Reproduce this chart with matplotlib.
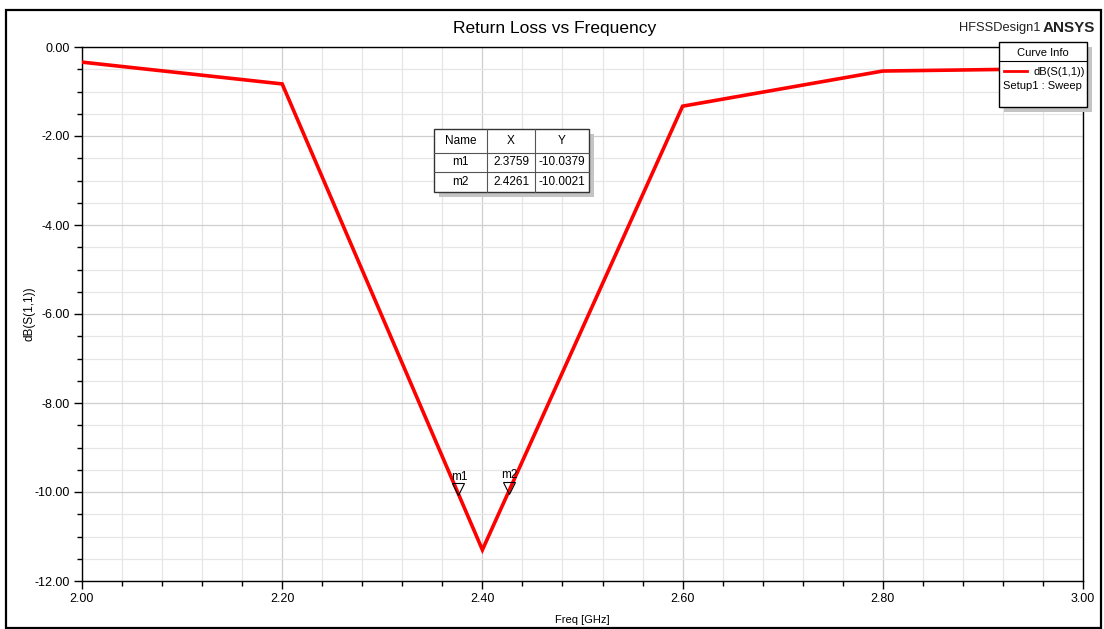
import matplotlib
matplotlib.use("Agg")
import matplotlib.pyplot as plt
from matplotlib.patches import Rectangle
from matplotlib.lines import Line2D
from matplotlib.ticker import MultipleLocator, FormatStrFormatter
from matplotlib.transforms import offset_copy

plt.rcParams['font.family'] = ['Liberation Sans', 'DejaVu Sans']

# S11 sweep
freq_ghz = [2.0, 2.2, 2.4, 2.6, 2.8, 3.0]
s11_db = [-0.34, -0.83, -11.30, -1.33, -0.54, -0.48]

# markers
marker_names = ["m1", "m2"]
marker_x = [2.3759, 2.4261]
marker_y = [-10.0379, -10.0021]

W, H = 1104, 629
fig = plt.figure(figsize=(W / 100, H / 100), dpi=100)
fig.patch.set_facecolor("white")


def fx(x):
    return x / W


def fy(y):
    return 1 - y / H


def frect(x0, y0, x1, y1, **kw):
    r = Rectangle((fx(x0), fy(y1)), fx(x1) - fx(x0), fy(y0) - fy(y1),
                  transform=fig.transFigure, **kw)
    fig.add_artist(r)
    return r


def fline(x0, y0, x1, y1, **kw):
    ln = Line2D([fx(x0), fx(x1)], [fy(y0), fy(y1)], transform=fig.transFigure, **kw)
    fig.add_artist(ln)
    return ln


# outer frame
frect(6, 10, 1101, 628, fill=False, edgecolor="black", linewidth=1.6, zorder=0)

ax = fig.add_axes([fx(82), fy(581), fx(1083) - fx(82), fy(47) - fy(581)])
ax.plot(freq_ghz, s11_db, color="#ff0000", linewidth=2.6, zorder=3, solid_joinstyle="miter")
ax.set_xlim(2.0, 3.0)
ax.set_ylim(-12.0, 0.0)

ax.xaxis.set_major_locator(MultipleLocator(0.2))
ax.xaxis.set_minor_locator(MultipleLocator(0.04))
ax.yaxis.set_major_locator(MultipleLocator(2.0))
ax.yaxis.set_minor_locator(MultipleLocator(0.5))
ax.xaxis.set_major_formatter(FormatStrFormatter("%.2f"))
ax.yaxis.set_major_formatter(FormatStrFormatter("%.2f"))
ax.grid(which="major", color="#cfcfcf", linewidth=0.9)
ax.grid(which="minor", color="#e6e6e6", linewidth=0.9)
ax.set_axisbelow(True)
ax.tick_params(which="major", direction="out", length=6, width=1, labelsize=9,
               pad=3, top=False, right=False)
ax.tick_params(which="minor", direction="out", length=3.5, width=1, top=False, right=False)
for s in ax.spines.values():
    s.set_color("black")
    s.set_linewidth(1.0)

ax.set_xlabel("Freq [GHz]", fontsize=8, labelpad=7)
fig.text(fx(30), fy(314), "dB(S(1,1))", fontsize=8.5, rotation=90, ha="center", va="center")
fig.text(fx(555), fy(29), "Return Loss vs Frequency", fontsize=12.5, ha="center", va="center")

# marker glyphs: open triangles with the apex on the trace
tri_tr = offset_copy(ax.transData, fig=fig, x=0, y=4.5, units="dots")
lab_tr = offset_copy(ax.transData, fig=fig, x=1, y=11, units="dots")
for name, mx, my in zip(marker_names, marker_x, marker_y):
    ax.plot([mx], [my], marker="v", markersize=8, markerfacecolor="none",
            markeredgecolor="black", markeredgewidth=0.8, transform=tri_tr,
            zorder=5, clip_on=False)
    ax.text(mx, my, name, transform=lab_tr, fontsize=8.5, ha="center", va="bottom", zorder=5)

# design / vendor tag
fig.text(fx(1040), fy(28), "HFSSDesign1", fontsize=9.3, ha="right", va="center", color="#222222")
fig.text(fx(1043), fy(28), "ANSYS", fontsize=11, fontweight="bold", ha="left", va="center",
         color="#222222")

# curve info box
frect(1004, 47, 1092, 112, facecolor="#c4c4c4", edgecolor="none", zorder=6)
frect(999, 42, 1087, 107, facecolor="white", edgecolor="black", linewidth=1.0, zorder=7)
fline(999, 61, 1087, 61, color="black", linewidth=0.8, zorder=8)
fig.text(fx(1043), fy(53), "Curve Info", fontsize=8, ha="center", va="center", zorder=8)
fline(1004, 71, 1027, 71, color="#ff0000", linewidth=2.0, zorder=8)
fig.text(fx(1085), fy(72), "dB(S(1,1))", fontsize=8, ha="right", va="center", zorder=8)
fig.text(fx(1003), fy(86), "Setup1 : Sweep", fontsize=8, ha="left", va="center", zorder=8)

# marker table
tx = [434, 487, 535, 589]
ty = [129, 153, 172, 192]
frect(tx[0] + 5, ty[0] + 5, tx[-1] + 5, ty[-1] + 5, facecolor="#c4c4c4", edgecolor="none", zorder=6)
frect(tx[0], ty[0], tx[-1], ty[-1], facecolor="white", edgecolor="#333333", linewidth=1.0, zorder=7)
for xv in tx[1:-1]:
    fline(xv, ty[0], xv, ty[-1], color="#555555", linewidth=0.8, zorder=8)
for yv in ty[1:-1]:
    fline(tx[0], yv, tx[-1], yv, color="#555555", linewidth=0.8, zorder=8)
header = ["Name", "X", "Y"]
for c in range(3):
    cx = (tx[c] + tx[c + 1]) / 2
    fig.text(fx(cx), fy((ty[0] + ty[1]) / 2), header[c], fontsize=8.5, ha="center",
             va="center", zorder=9)
for r, (name, mx, my) in enumerate(zip(marker_names, marker_x, marker_y)):
    cy = (ty[r + 1] + ty[r + 2]) / 2
    vals = [name, f"{mx:.4f}", f"{my:.4f}"]
    for c in range(3):
        cx = (tx[c] + tx[c + 1]) / 2
        fig.text(fx(cx), fy(cy), vals[c], fontsize=8.5, ha="center", va="center", zorder=9)

fig.savefig("out.png", dpi=100, facecolor="white")
